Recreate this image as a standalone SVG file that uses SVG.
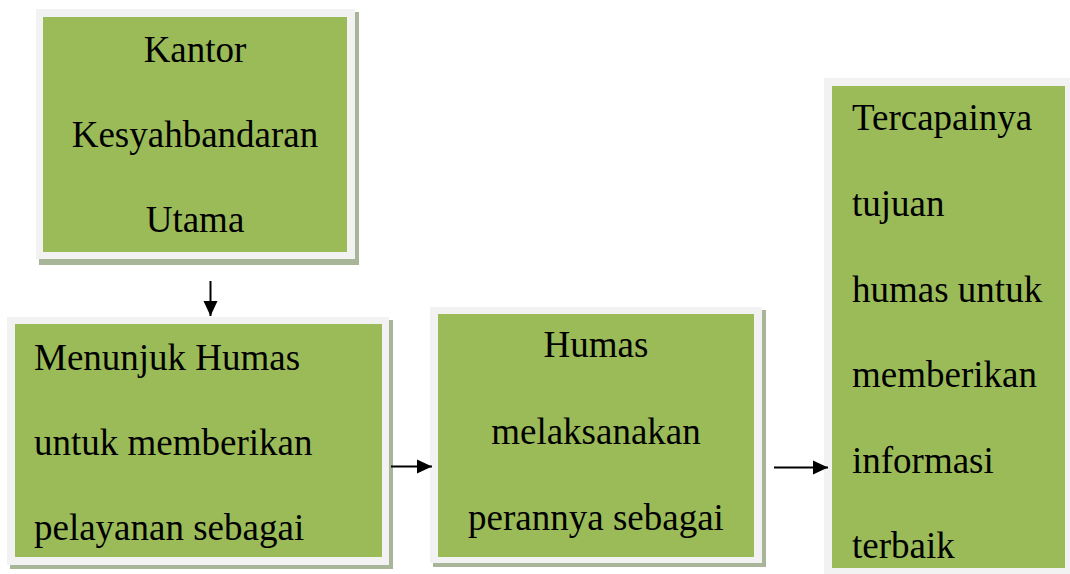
<svg xmlns="http://www.w3.org/2000/svg" width="1070" height="574" viewBox="0 0 1070 574">
<style>
.sh{fill:#a9b599}
.bd{fill:#f2f2f2}
.gr{fill:#9bbb59}
text{font-family:"Liberation Serif","Times New Roman",serif;font-size:37px;fill:#000}
.c{text-anchor:middle}
.ln{stroke:#000;stroke-width:2;fill:none}
</style>
<defs>
<marker id="ah" markerWidth="8" markerHeight="8" refX="7.5" refY="4" orient="auto" markerUnits="strokeWidth">
<path d="M0,0.5 L7.5,4 L0,7.5 Z" fill="#000"/>
</marker>
</defs>
<rect width="1070" height="574" fill="#fff"/>
<g id="node-kantor">
<rect class="sh" x="39" y="12" width="320" height="253"/>
<rect class="bd" x="36" y="9" width="319" height="250"/>
<rect class="gr" x="43" y="17" width="304" height="235"/>
<text class="c" x="195" y="62">Kantor</text>
<text class="c" x="195" y="147">Kesyahbandaran</text>
<text class="c" x="195" y="232">Utama</text>
</g>
<g id="node-menunjuk">
<rect class="sh" x="10" y="320" width="383" height="249"/>
<rect class="bd" x="7" y="317" width="382" height="248"/>
<rect class="gr" x="15" y="324" width="367" height="233"/>
<text x="34" y="370">Menunjuk Humas</text>
<text x="34" y="455">untuk memberikan</text>
<text x="34" y="540">pelayanan sebagai</text>
</g>
<g id="node-humas">
<rect class="sh" x="433" y="310" width="333" height="257"/>
<rect class="bd" x="430" y="307" width="332" height="256"/>
<rect class="gr" x="438" y="314" width="316" height="243"/>
<text class="c" x="596" y="357">Humas</text>
<text class="c" x="596" y="444">melaksanakan</text>
<text class="c" x="596" y="530">perannya sebagai</text>
</g>
<g id="node-tujuan">
<rect class="sh" x="827" y="81" width="248" height="500"/>
<rect class="bd" x="824" y="78" width="246" height="497"/>
<rect class="gr" x="832" y="86" width="233" height="482"/>
<text x="852" y="130">Tercapainya</text>
<text x="852" y="216">tujuan</text>
<text x="852" y="302">humas untuk</text>
<text x="852" y="387">memberikan</text>
<text x="852" y="473">informasi</text>
<text x="852" y="558">terbaik</text>
</g>
<g id="connectors">
<line class="ln" x1="210.5" y1="281" x2="210.5" y2="316" marker-end="url(#ah)"/>
<line class="ln" x1="391" y1="466.5" x2="432" y2="466.5" marker-end="url(#ah)"/>
<line class="ln" x1="774" y1="467.5" x2="828" y2="467.5" marker-end="url(#ah)"/>
</g>
</svg>
